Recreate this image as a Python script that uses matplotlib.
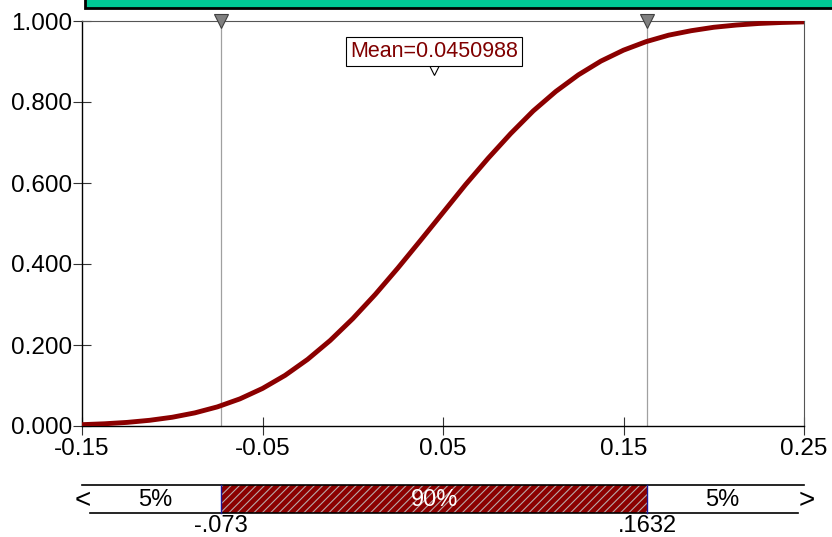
import matplotlib
matplotlib.use("Agg")
import matplotlib.pyplot as plt
from matplotlib.patches import Rectangle

plt.rcParams['font.family'] = ['Liberation Sans', 'DejaVu Sans']
plt.rcParams['hatch.linewidth'] = 0.8

# Cumulative probability curve
x_values = [-0.15, -0.1375, -0.125, -0.1125, -0.1, -0.0875, -0.075, -0.0625,
            -0.05, -0.0375, -0.025, -0.0125, 0.0, 0.0125, 0.025, 0.0375,
            0.05, 0.0625, 0.075, 0.0875, 0.1, 0.1125, 0.125, 0.1375,
            0.15, 0.1625, 0.175, 0.1875, 0.2, 0.2125, 0.225, 0.2375, 0.25]
cum_prob = [0.0033, 0.0055, 0.0089, 0.0141, 0.0216, 0.0324, 0.0472, 0.0670,
            0.0927, 0.125, 0.1645, 0.2112, 0.265, 0.325, 0.390, 0.458,
            0.527, 0.596, 0.661, 0.722, 0.778, 0.826, 0.867, 0.901,
            0.928, 0.949, 0.965, 0.976, 0.9845, 0.990, 0.9939, 0.9963, 0.9978]

mean_value = 0.0450988
delimiters = [-0.073, 0.1632]
delimiter_labels = ['-.073', '.1632']
delimiter_probs = [0.05, 0.95]

x_ticks = [-0.15, -0.05, 0.05, 0.15, 0.25]
x_tick_labels = ['-0.15', '-0.05', '0.05', '0.15', '0.25']
y_ticks = [0.0, 0.2, 0.4, 0.6, 0.8, 1.0]
y_tick_labels = ['0.000', '0.200', '0.400', '0.600', '0.800', '1.000']

xmin, xmax = -0.15, 0.25
W, H = 832, 537
curve_color = '#8b0000'

fig = plt.figure(figsize=(W / 100, H / 100), dpi=100)

# Main plot area
ax_l, ax_r, ax_t, ax_b = 82, 804, 21, 426
ax = fig.add_axes([ax_l / W, 1 - ax_b / H, (ax_r - ax_l) / W, (ax_b - ax_t) / H])
ax.set_xlim(xmin, xmax)
ax.set_ylim(0, 1)

ax.plot(x_values, cum_prob, color=curve_color, lw=3.5, solid_joinstyle='round',
        solid_capstyle='butt', zorder=3)

for d in delimiters:
    ax.axvline(d, color='#a0a0a0', lw=0.9, zorder=2)
    ax.plot([d], [1.0], transform=ax.get_xaxis_transform(), marker='v',
            markersize=9.5, markerfacecolor='#808080', markeredgecolor='#404040',
            markeredgewidth=0.8, clip_on=False, zorder=5,
            linestyle='none')

# Mean marker and label
ax.plot([mean_value], [0.882], transform=ax.get_xaxis_transform(), marker='v',
        markersize=8, markerfacecolor='white', markeredgecolor='black',
        markeredgewidth=0.8, linestyle='none', zorder=6)
ax.text(mean_value, 0.925, f'Mean={mean_value:.7f}', transform=ax.get_xaxis_transform(),
        ha='center', va='center', fontsize=15.5, color='#800000', zorder=7,
        bbox=dict(boxstyle='square,pad=0.18', facecolor='white', edgecolor='black', lw=0.8))

ax.set_xticks(x_ticks)
ax.set_xticklabels(x_tick_labels)
ax.set_yticks(y_ticks)
ax.set_yticklabels(y_tick_labels)
ax.tick_params(axis='both', direction='inout', length=13, width=0.8, color='#333333',
               labelsize=17.5)
ax.tick_params(axis='x', pad=2)
ax.tick_params(axis='y', pad=0.5)

ax.spines['left'].set_color('black')
ax.spines['bottom'].set_color('black')
ax.spines['left'].set_linewidth(1.0)
ax.spines['bottom'].set_linewidth(1.0)
ax.spines['top'].set_color('#555555')
ax.spines['right'].set_color('#555555')
ax.spines['top'].set_linewidth(0.8)
ax.spines['right'].set_linewidth(0.8)

# Title band at the very top
fig.patches.append(Rectangle((85 / W, 1 - 8 / H), 1.0, 0.1, transform=fig.transFigure,
                             facecolor='#00c896', edgecolor='black', lw=2.0, zorder=10))

# Probability band below the plot
bx = fig.add_axes([ax_l / W, 0.0, (ax_r - ax_l) / W, 75 / H])
bx.set_xlim(xmin, xmax)
bx.set_ylim(0, 75)
bx.axis('off')

span = xmax - xmin
bar_left = xmin + 8 / 722 * span
bar_right = xmin + 716 / 722 * span
y_top, y_bot = 537 - 485, 537 - 513

bx.add_patch(Rectangle((delimiters[0], y_bot), delimiters[1] - delimiters[0], y_top - y_bot,
                       facecolor=curve_color, edgecolor='#b8a8a8', hatch='////', lw=0,
                       zorder=2))
bx.plot([xmin, xmax], [y_top, y_top], color='black', lw=1.2, zorder=3, clip_on=False)
bx.plot([bar_left, bar_right], [y_bot, y_bot], color='black', lw=1.2, zorder=3, clip_on=False)
for d in delimiters:
    bx.plot([d, d], [y_bot, y_top], color='#1a1a9c', lw=1.0, zorder=4)

pct = [delimiter_probs[0], delimiter_probs[1] - delimiter_probs[0], 1 - delimiter_probs[1]]
seg_edges = [bar_left, delimiters[0], delimiters[1], bar_right]
seg_colors = ['black', 'white', 'black']
y_mid = (y_top + y_bot) / 2
for i in range(3):
    bx.text((seg_edges[i] + seg_edges[i + 1]) / 2, y_mid - 1, f'{pct[i] * 100:.0f}%',
            ha='center', va='center', fontsize=17, color=seg_colors[i], zorder=5)

bx.text(xmin + 1 / 722 * span, y_mid - 2, '<', ha='center', va='center', fontsize=20, clip_on=False)
bx.text(xmin + 725 / 722 * span, y_mid - 2, '>', ha='center', va='center', fontsize=20, clip_on=False)

for d, lab in zip(delimiters, delimiter_labels):
    bx.text(d, 21.5, lab, ha='center', va='top', fontsize=17, clip_on=False)

fig.savefig('out.png', dpi=100)
